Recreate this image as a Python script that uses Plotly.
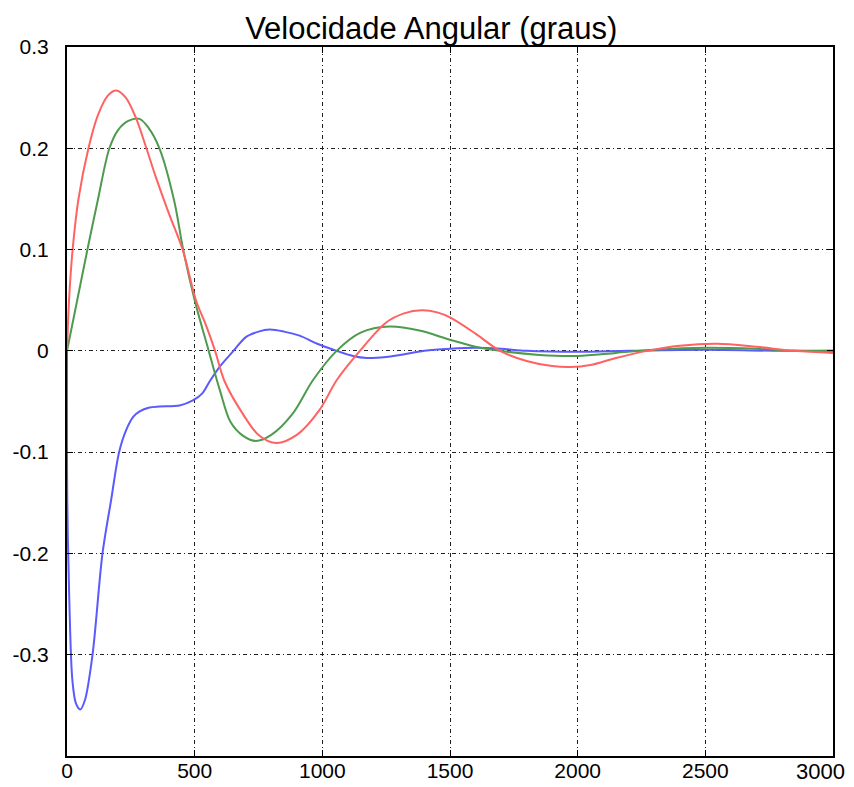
import plotly.graph_objects as go

red_x = [0, 8, 22, 45, 84, 120, 160, 193, 230, 270, 311, 350, 400, 453, 505, 545, 580, 617, 688, 750, 820, 900, 990, 1056, 1147, 1250, 1320, 1390, 1450, 1500, 1600, 1696, 1800, 1900, 1970, 2050, 2150, 2272, 2400, 2546, 2700, 2850, 3000]
red_y = [0.0, 0.05, 0.1, 0.15, 0.2, 0.232, 0.252, 0.257, 0.25, 0.23, 0.2, 0.17, 0.135, 0.1, 0.05, 0.025, 0.0, -0.03, -0.062, -0.083, -0.091, -0.083, -0.058, -0.029, 0.0, 0.028, 0.037, 0.040, 0.038, 0.033, 0.017, 0.0, -0.01, -0.015, -0.016, -0.014, -0.007, 0.0, 0.005, 0.007, 0.004, 0.0, -0.002]

green_x = [0, 40, 80, 120, 166, 200, 240, 284, 320, 362, 420, 455, 500, 555, 600, 640, 690, 740, 800, 884, 963, 1056, 1150, 1265, 1380, 1500, 1600, 1696, 1850, 2000, 2150, 2300, 2500, 2700, 2850, 3000]
green_y = [0.0, 0.05, 0.1, 0.148, 0.2, 0.218, 0.227, 0.229, 0.22, 0.2, 0.148, 0.1, 0.05, 0.0, -0.04, -0.07, -0.084, -0.089, -0.083, -0.062, -0.029, 0.0, 0.018, 0.024, 0.02, 0.011, 0.004, 0.0, -0.004, -0.005, -0.002, 0.001, 0.003, 0.002, 0.0, 0.0]

blue_x = [0, 1, 9, 21, 35, 52, 70, 100, 139, 173, 204, 232, 260, 283, 323, 362, 441, 493, 530, 559, 600, 645, 703, 750, 793, 850, 911, 980, 1056, 1120, 1174, 1250, 1304, 1400, 1500, 1600, 1700, 1800, 2000, 2200, 2500, 2800, 3000]
blue_y = [0.0, -0.147, -0.246, -0.325, -0.348, -0.354, -0.345, -0.3, -0.2, -0.147, -0.1, -0.078, -0.065, -0.06, -0.056, -0.055, -0.054, -0.049, -0.042, -0.03, -0.015, -0.002, 0.014, 0.019, 0.021, 0.019, 0.015, 0.007, 0.0, -0.005, -0.007, -0.006, -0.004, 0.0, 0.002, 0.003, 0.002, 0.0, -0.001, 0.0, 0.001, 0.0, 0.0]

x_ticks = [0, 500, 1000, 1500, 2000, 2500, 3000]
x_labels = ["0", "500", "1000", "1500", "2000", "2500", ""]
last_x_label = "3000"
y_ticks = [-0.3, -0.2, -0.1, 0, 0.1, 0.2, 0.3]
y_labels = ["-0.3", "-0.2", "-0.1", "0", "0.1", "0.2", "0.3"]

fig = go.Figure()
for xs, ys, col in [(blue_x, blue_y, "#5a5aff"), (green_x, green_y, "#4e9a4e"), (red_x, red_y, "#ff6262")]:
    fig.add_trace(go.Scatter(x=xs, y=ys, mode="lines",
                             line=dict(color=col, width=2, shape="spline", smoothing=0.9),
                             showlegend=False, hoverinfo="skip", cliponaxis=False))

# last x tick label sits shifted left/up in the reference
fig.add_annotation(x=x_ticks[-1], xref="x", y=0, yref="paper", text=last_x_label,
                   showarrow=False, xanchor="center", yanchor="top", xshift=-13, yshift=-1,
                   font=dict(size=22, color="black"))

grid_dash = "4px,3px,1px,3px"
fig.update_layout(
    width=854, height=787,
    margin=dict(l=67, r=21, t=47, b=31),
    paper_bgcolor="white", plot_bgcolor="white",
    font=dict(family="Liberation Sans, Arial, sans-serif", color="black"),
    title=dict(text="Velocidade Angular (graus)", x=0.505, xanchor="center",
               y=1 - 28 / 787, yanchor="middle", font=dict(size=31, color="black")),
    xaxis=dict(range=[0, 3000], tickvals=x_ticks, ticktext=x_labels,
               showgrid=True, gridcolor="#222", gridwidth=1, griddash=grid_dash,
               showline=True, linecolor="black", linewidth=2, mirror="ticks",
               ticks="inside", ticklen=6, tickcolor="black", zeroline=False,
               tickfont=dict(size=21), ticklabelstandoff=-5, automargin=False),
    yaxis=dict(range=[-0.4, 0.3], tickvals=y_ticks, ticktext=y_labels,
               showgrid=True, gridcolor="#222", gridwidth=1, griddash=grid_dash,
               showline=True, linecolor="black", linewidth=2, mirror="ticks",
               ticks="inside", ticklen=6, tickcolor="black", zeroline=False,
               tickfont=dict(size=21), ticklabelstandoff=12, automargin=False),
)

fig.write_html("out.html")
